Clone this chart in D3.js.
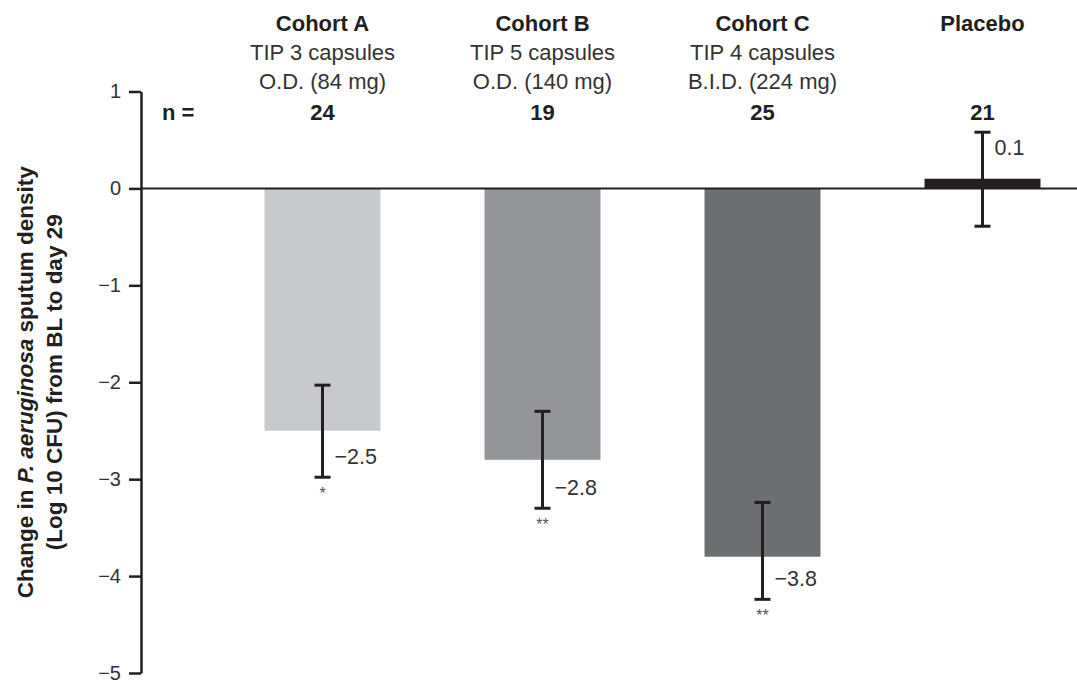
<!DOCTYPE html>
<html>
<head>
<meta charset="utf-8">
<script src="https://cdn.jsdelivr.net/npm/d3@7/dist/d3.min.js"></script>
<style>
  html, body { margin: 0; padding: 0; background: #fff; }
  svg { display: block; font-family: "Liberation Sans", Arial, Helvetica, sans-serif; }
</style>
</head>
<body>
<svg id="chart" width="1077" height="684"></svg>
<script>
// ---- data ----
const categories = ["Cohort A", "Cohort B", "Cohort C", "Placebo"];
const doseLine1 = ["TIP 3 capsules", "TIP 5 capsules", "TIP 4 capsules", ""];
const doseLine2 = ["O.D. (84 mg)", "O.D. (140 mg)", "B.I.D. (224 mg)", ""];
const nValues = [24, 19, 25, 21];
const means = [-2.5, -2.8, -3.8, 0.1];
const errLow = [-2.98, -3.30, -4.24, -0.39];
const errHigh = [-2.03, -2.30, -3.24, 0.58];
const valueLabels = ["\u22122.5", "\u22122.8", "\u22123.8", "0.1"];
const significance = ["*", "**", "**", ""];
const barColors = ["#c8c9cb", "#939598", "#6d6e70", "#231f20"];
const yTicks = [1, 0, -1, -2, -3, -4, -5];

const rows = categories.map((c, i) => ({
  cat: c, d1: doseLine1[i], d2: doseLine2[i], n: nValues[i],
  mean: means[i], lo: errLow[i], hi: errHigh[i],
  label: valueLabels[i], sig: significance[i], color: barColors[i]
}));

// ---- layout ----
const svg = d3.select("#chart");
const axisX = 141;
const x = d3.scaleBand().domain(categories).range([212.5, 1092.5])
  .paddingInner(0.473).paddingOuter(0.2365);
const y = d3.scaleLinear().domain([-5, 1]).range([673, 91.5]);
const ink = "#231f20";
const hdrSize = 22;

// bars
svg.append("g").selectAll("rect").data(rows).join("rect")
  .attr("x", d => x(d.cat))
  .attr("width", x.bandwidth())
  .attr("y", d => y(Math.max(0, d.mean)))
  .attr("height", d => Math.abs(y(d.mean) - y(0)))
  .attr("fill", d => d.color);

// zero line
svg.append("line")
  .attr("x1", axisX).attr("x2", 1077)
  .attr("y1", y(0)).attr("y2", y(0))
  .attr("stroke", ink).attr("stroke-width", 2);

// y axis
const yAxis = d3.axisLeft(y).tickValues(yTicks).tickSize(12).tickSizeOuter(0).tickPadding(8)
  .tickFormat(d3.format("d"));
const ga = svg.append("g").attr("transform", `translate(${axisX},0)`).call(yAxis);
ga.select(".domain").attr("stroke", ink).attr("stroke-width", 2.5);
ga.selectAll(".tick line").attr("stroke", ink).attr("stroke-width", 2.5);
ga.selectAll(".tick text").attr("font-size", 20).attr("fill", "#333")
  .attr("font-family", "Liberation Sans, Arial, sans-serif");

// error bars
const cx = d => x(d.cat) + x.bandwidth() / 2;
const eb = svg.append("g").attr("stroke", ink).attr("stroke-width", 3);
const capW = 8;
eb.selectAll("line.v").data(rows).join("line").attr("class", "v")
  .attr("x1", cx).attr("x2", cx).attr("y1", d => y(d.hi)).attr("y2", d => y(d.lo));
eb.selectAll("line.t").data(rows).join("line").attr("class", "t")
  .attr("x1", d => cx(d) - capW).attr("x2", d => cx(d) + capW)
  .attr("y1", d => y(d.hi)).attr("y2", d => y(d.hi));
eb.selectAll("line.b").data(rows).join("line").attr("class", "b")
  .attr("x1", d => cx(d) - capW).attr("x2", d => cx(d) + capW)
  .attr("y1", d => y(d.lo)).attr("y2", d => y(d.lo));

// value labels
svg.append("g").selectAll("text").data(rows).join("text")
  .attr("x", d => cx(d) + 12)
  .attr("y", d => d.mean < 0 ? y(d.lo) - 13 : y(d.hi) + 23)
  .attr("font-size", 21.5).attr("fill", "#333")
  .text(d => d.label);

// significance stars
svg.append("g").selectAll("text").data(rows).join("text")
  .attr("x", cx)
  .attr("y", d => y(d.lo) + 22)
  .attr("text-anchor", "middle")
  .attr("font-size", 16).attr("fill", "#555")
  .text(d => d.sig);

// headers
const hg = svg.append("g").attr("text-anchor", "middle");
hg.selectAll("text.h").data(rows).join("text").attr("class", "h")
  .attr("x", cx).attr("y", 31).attr("font-size", hdrSize).attr("font-weight", "bold").attr("fill", ink)
  .text(d => d.cat);
hg.selectAll("text.d1").data(rows).join("text").attr("class", "d1")
  .attr("x", cx).attr("y", 60).attr("font-size", hdrSize).attr("fill", "#333")
  .text(d => d.d1);
hg.selectAll("text.d2").data(rows).join("text").attr("class", "d2")
  .attr("x", cx).attr("y", 89).attr("font-size", hdrSize).attr("fill", "#333")
  .text(d => d.d2);
hg.selectAll("text.n").data(rows).join("text").attr("class", "n")
  .attr("x", cx).attr("y", 120).attr("font-size", hdrSize).attr("font-weight", "bold").attr("fill", ink)
  .text(d => d.n);
svg.append("text").attr("x", 162).attr("y", 120).attr("font-size", hdrSize)
  .attr("font-weight", "bold").attr("fill", ink).text("n =");

// y title
const yMid = (y(1) + y(-5)) / 2;
const t1 = svg.append("text").attr("transform", `translate(33,${yMid}) rotate(-90)`)
  .attr("text-anchor", "middle").attr("font-size", 22.5).attr("font-weight", "bold").attr("fill", ink);
t1.append("tspan").text("Change in ");
t1.append("tspan").attr("font-style", "italic").text("P. aeruginosa");
t1.append("tspan").text(" sputum density");
svg.append("text").attr("transform", `translate(62,${yMid}) rotate(-90)`)
  .attr("text-anchor", "middle").attr("font-size", 22.5).attr("font-weight", "bold").attr("fill", ink)
  .text("(Log 10 CFU) from BL to day 29");
</script>
</body>
</html>
